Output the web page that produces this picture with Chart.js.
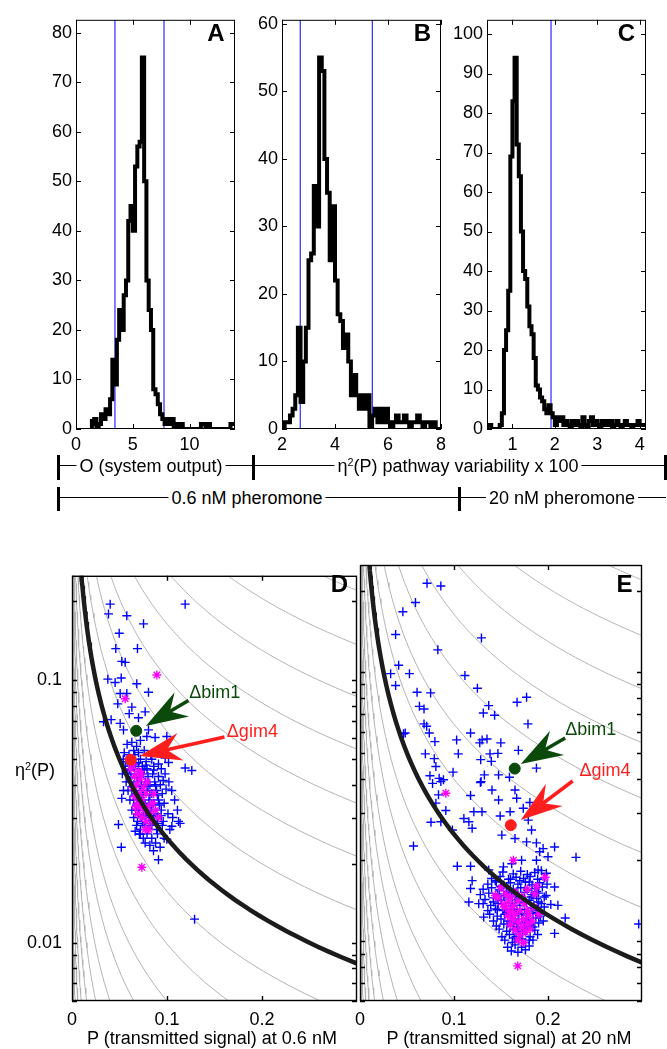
<!DOCTYPE html>
<html>
<head>
<meta charset="utf-8">
<script src="https://cdn.jsdelivr.net/npm/chart.js@4.4.1/dist/chart.umd.min.js"></script>
<style>
  body { margin: 0; background: #fff; }
  #fig { position: relative; width: 667px; height: 1049px; overflow: hidden;
         font-family: "Liberation Sans", Arial, Helvetica, sans-serif; color: #000; }
  canvas { position: absolute; }
  .t { position: absolute; white-space: nowrap; line-height: 1; }
  .t sup { font-size: 0.6em; vertical-align: 0.55em; line-height: 0; }
  .hl { position: absolute; height: 0; border-top: 1.5px solid #000; }
  .bar { position: absolute; width: 3px; background: #000; }
</style>
</head>
<body>
<div id="fig"></div>
<script>
const FONT = '"Liberation Sans", Arial, Helvetica, sans-serif';
Chart.defaults.font.family = FONT;
Chart.defaults.color = '#000';

// ---------- histogram data (top row) ----------
// A: system output O, 0.6 nM
const binsA = { start: 1.4, width: 0.2 };
const countsA = [2,1,2,0,1,3,2,4,3,6,
  14,9,18,24,20,27,30,42,45,40,
  53,57,58,75,50,30,24,20,8,7,
  5,3,2,1,2,1,2,0,1,0,
  1,0,0,0,0,0,0,0,0,1,
  1,0,1,0,0,0,0,0,0,0,
  0,0,1];
const limitsA = [3.43, 7.75];

// B: pathway variability, 0.6 nM
const binsB = { start: 2.0, width: 0.1 };
const countsB = [1,0,1,1,2,3,5,15,4,10,
  15,25,26,36,30,55,53,40,35,25,
  33,22,17,16,12,14,10,5,8,5,
  3,5,3,5,0,2,3,1,3,1,
  3,1,0,1,2,1,1,2,1,0,
  1,1,2,1,0,1,1,0,1,0];
const limitsB = [2.69, 5.41];

// C: pathway variability, 20 nM
const binsC = { start: 0.4, width: 0.05 };
const countsC = [1,1,1,0,0,0,0,1,4,20,
  25,35,69,83,94,72,64,50,40,38,
  31,26,24,18,11,10,8,7,5,4,
  6,4,3,1,3,2,3,1,2,1,
  0,2,1,2,1,0,3,1,0,2,
  3,1,2,1,0,2,1,2,1,2,
  0,1,2,1,0,1,2,1,1,0,
  1,1,2,1,1];
const limitsC = [1.91];

const xTicksA = [0, 5, 10];
const yTicksA = [0, 10, 20, 30, 40, 50, 60, 70, 80];
const xTicksB = [2, 4, 6, 8];
const yTicksB = [0, 10, 20, 30, 40, 50, 60];
const xTicksC = [1, 2, 3, 4];
const yTicksC = [0, 10, 20, 30, 40, 50, 60, 70, 80, 90, 100];

// ---------- scatter data (bottom row) ----------
// isolines P * eta^2 = const, and the bold one
const isoLevels = [2.5e-6, 4e-6, 7e-6, 1.2e-5, 2e-5, 3.6e-5, 5.8e-5, 9.3e-5, 1.5e-4, 2.4e-4,
  3.9e-4, 6.0e-4, 9.9e-4, 1.57e-3, 2.5e-3, 4.0e-3, 6.4e-3, 1.02e-2, 1.64e-2, 2.6e-2, 4.1e-2, 6.6e-2];
const boundLevel = 0.0025;

const cellsD = [
  [0.0402,0.195],[0.0384,0.179],[0.0577,0.176],[0.0753,0.164],[0.0497,0.151],[0.0461,0.132],[0.0689,0.132],
  [0.0524,0.118],[0.0560,0.117],[0.0377,0.101],[0.0454,0.098],[0.0518,0.102],[0.0682,0.097],[0.0805,0.090],
  [0.1191,0.195],[0.0507,0.089],[0.0577,0.089],[0.0482,0.0813],[0.0630,0.079],[0.0602,0.0746],[0.0770,0.0758],
  [0.0700,0.0720],[0.0332,0.0695],[0.0412,0.0708],[0.0507,0.0685],[0.0542,0.0647],[0.0805,0.0647],[0.0788,0.0611],
  [0.0875,0.0605],[0.0998,0.0611],[0.1191,0.0463],[0.1261,0.0453],[0.1016,0.0486],[0.0981,0.0505],
  [0.0489,0.0282],[0.0519,0.0231],[0.0858,0.0224],[0.0910,0.0207],[0.0928,0.0231],[0.1121,0.029],[0.1138,0.0285],
  [0.1051,0.0278],[0.0998,0.0248],[0.129,0.0123],[0.0665,0.0266],[0.0718,0.0259],[0.0524,0.0355],[0.0542,0.038],
  [0.058,0.057],[0.063,0.058],[0.068,0.056],[0.072,0.059],[0.065,0.054],
  [0.055,0.053],[0.060,0.052],[0.066,0.052],[0.070,0.053],[0.076,0.054],[0.083,0.052],[0.089,0.053],
  [0.054,0.050],[0.058,0.049],[0.063,0.050],[0.067,0.048],[0.072,0.050],[0.078,0.049],[0.084,0.050],[0.091,0.048],
  [0.056,0.047],[0.061,0.046],[0.065,0.047],[0.070,0.046],[0.074,0.047],[0.079,0.046],[0.086,0.047],[0.094,0.046],
  [0.053,0.044],[0.058,0.044],[0.062,0.043],[0.066,0.044],[0.071,0.043],[0.075,0.044],[0.080,0.043],[0.085,0.044],[0.091,0.043],[0.098,0.044],
  [0.057,0.041],[0.061,0.041],[0.065,0.040],[0.069,0.041],[0.073,0.040],[0.077,0.041],[0.082,0.040],[0.087,0.041],[0.093,0.040],[0.102,0.041],
  [0.059,0.038],[0.063,0.038],[0.067,0.037],[0.071,0.038],[0.075,0.037],[0.079,0.038],[0.084,0.037],[0.089,0.038],[0.095,0.037],[0.105,0.038],
  [0.061,0.035],[0.065,0.035],[0.069,0.034],[0.073,0.035],[0.077,0.034],[0.081,0.035],[0.086,0.034],[0.091,0.035],[0.097,0.034],[0.108,0.035],
  [0.063,0.032],[0.067,0.032],[0.071,0.031],[0.075,0.032],[0.079,0.031],[0.083,0.032],[0.088,0.031],[0.094,0.032],[0.101,0.031],[0.111,0.032],
  [0.065,0.030],[0.069,0.029],[0.073,0.030],[0.077,0.029],[0.081,0.030],[0.085,0.029],[0.090,0.030],[0.096,0.029],[0.106,0.030],
  [0.068,0.028],[0.072,0.027],[0.076,0.028],[0.080,0.027],[0.084,0.028],[0.089,0.027],[0.095,0.028],[0.103,0.027],
  [0.071,0.026],[0.075,0.025],[0.079,0.026],[0.084,0.025],[0.090,0.026],[0.097,0.025],
  [0.077,0.024],[0.082,0.0235],[0.088,0.024],
  [0.060,0.0455],[0.068,0.0425],[0.076,0.0455],[0.064,0.0395],[0.072,0.0395],[0.080,0.0395],[0.088,0.0395],
  [0.066,0.0365],[0.074,0.0365],[0.082,0.0365],[0.090,0.0365],[0.068,0.0335],[0.076,0.0335],[0.084,0.0335],
  [0.092,0.0335],[0.070,0.031],[0.078,0.0305],[0.086,0.0305],[0.094,0.0305],[0.074,0.0285],[0.082,0.0285],
  [0.090,0.0285],[0.062,0.0485],[0.070,0.0485],[0.078,0.0475],[0.086,0.0455],[0.096,0.0415],[0.099,0.0385]
];
const starsD = [
  [0.0893,0.1047],[0.056,0.085],[0.0735,0.0194],[0.062,0.046],[0.066,0.043],[0.070,0.045],[0.068,0.040],
  [0.072,0.042],[0.075,0.039],[0.071,0.037],[0.066,0.036],[0.074,0.035],[0.078,0.037],[0.080,0.033],
  [0.076,0.032],[0.072,0.033],[0.069,0.031],[0.074,0.030],[0.078,0.029],[0.082,0.031],[0.085,0.034],
  [0.081,0.027],[0.077,0.027],[0.084,0.029],[0.088,0.032],[0.064,0.039],[0.070,0.034],[0.067,0.033],
  [0.079,0.041],[0.073,0.044],[0.086,0.037],[0.091,0.030],[0.064,0.048],[0.060,0.050]
];
const bim1D = [0.0676, 0.0642];
const gim4D = [0.0619, 0.0498];

const cellsE = [
  [0.0713,0.214],[0.0860,0.209],[0.0590,0.1815],[0.0456,0.1675],[0.0379,0.138],[0.1292,0.134],[0.0828,0.121],
  [0.0411,0.106],[0.0326,0.0987],[0.0526,0.0987],[0.0379,0.0892],[0.1116,0.0972],[0.1249,0.0871],[0.0607,0.0842],
  [0.0751,0.0837],[0.0632,0.0746],[0.0681,0.0729],[0.1369,0.0751],[0.1312,0.0705],[0.1432,0.0691],[0.1671,0.0773],
  [0.1772,0.0807],[0.1787,0.0642],[0.0681,0.0642],[0.0709,0.0629],[0.0737,0.0594],[0.0481,0.0594],[0.0797,0.0552],
  [0.1028,0.0560],[0.1176,0.0594],[0.1299,0.0560],[0.1351,0.0564],[0.1274,0.0546],[0.1498,0.0546],[0.0695,0.0497],
  [0.0790,0.0477],[0.1046,0.0497],[0.1383,0.0497],[0.1467,0.0499],[0.1685,0.0512],[0.1284,0.0473],[0.1397,0.0466],
  [0.0807,0.0446],[0.0990,0.0425],[0.0744,0.0412],[0.0842,0.0403],[0.0888,0.0398],[0.1323,0.0415],[0.1474,0.0415],
  [0.1590,0.0407],[0.1877,0.0440],[0.1288,0.0392],[0.0463,0.0590],
  [0.0772,0.0386],[0.0860,0.0392],[0.0835,0.0350],[0.0807,0.0326],[0.0913,0.0306],[0.0755,0.0277],[0.0860,0.0278],
  [0.0983,0.0259],[0.0569,0.0226],[0.1281,0.0389],[0.1404,0.0365],[0.1176,0.0348],[0.1298,0.0303],[0.1211,0.0303],
  [0.1105,0.0286],[0.1158,0.0278],[0.1193,0.0263],[0.1474,0.0335],[0.1491,0.0292],[0.1597,0.0303],[0.1649,0.0365],
  [0.1667,0.0340],[0.1737,0.0312],[0.1807,0.0328],[0.1790,0.0282],[0.1825,0.0259],[0.1509,0.0248],[0.1649,0.0241],
  [0.1772,0.0234],[0.1877,0.0232],[0.1948,0.0221],[0.2070,0.0224],[0.2298,0.0205],[0.1912,0.0215],[0.2000,0.0206],
  [0.2070,0.0159],[0.2105,0.0136],[0.2183,0.0122],[0.2070,0.0107],[0.2965,0.0116],[0.1035,0.0190],[0.1176,0.0190],
  [0.1193,0.0168],[0.1176,0.0157],[0.1158,0.0140],[0.1263,0.0138],[0.1316,0.0123],[0.1369,0.0184],[0.1439,0.0168],
  [0.1526,0.0189],[0.1614,0.0194],[0.1719,0.0200],[0.1877,0.0200],[0.1895,0.0184],[0.1983,0.0179],
  [0.152,0.0181],[0.163,0.0178],[0.171,0.0182],[0.178,0.0177],[0.186,0.0180],[0.193,0.0183],
  [0.140,0.0171],[0.149,0.0174],[0.158,0.0170],[0.166,0.0173],[0.174,0.0171],[0.181,0.0174],[0.189,0.0170],[0.196,0.0172],
  [0.136,0.0163],[0.145,0.0166],[0.153,0.0162],[0.160,0.0165],[0.168,0.0163],[0.176,0.0166],[0.183,0.0162],[0.191,0.0165],[0.199,0.0163],
  [0.131,0.0156],[0.140,0.0158],[0.148,0.0155],[0.156,0.0158],[0.163,0.0156],[0.171,0.0158],[0.178,0.0155],[0.186,0.0157],[0.194,0.0159],
  [0.128,0.0149],[0.137,0.0151],[0.146,0.0150],[0.153,0.0148],[0.161,0.0151],[0.168,0.0149],[0.175,0.0152],[0.183,0.0149],[0.190,0.0151],[0.198,0.0148],
  [0.133,0.0143],[0.142,0.0145],[0.150,0.0142],[0.158,0.0145],[0.165,0.0143],[0.172,0.0145],[0.180,0.0142],[0.188,0.0144],[0.196,0.0146],
  [0.131,0.0138],[0.139,0.0136],[0.147,0.0138],[0.155,0.0135],[0.162,0.0138],[0.170,0.0136],[0.177,0.0139],[0.185,0.0136],[0.193,0.0138],[0.203,0.0137],
  [0.136,0.0130],[0.144,0.0132],[0.152,0.0130],[0.160,0.0132],[0.167,0.0129],[0.175,0.0131],[0.182,0.0133],[0.190,0.0130],
  [0.138,0.0126],[0.146,0.0124],[0.154,0.0126],[0.161,0.0124],[0.169,0.0126],[0.177,0.0125],[0.184,0.0127],[0.192,0.0124],
  [0.142,0.0119],[0.150,0.0121],[0.157,0.0119],[0.165,0.0121],[0.172,0.0118],[0.179,0.0120],[0.187,0.0122],[0.195,0.0119],
  [0.145,0.0114],[0.153,0.0116],[0.160,0.0114],[0.167,0.0116],[0.175,0.0113],[0.182,0.0115],[0.190,0.0117],
  [0.148,0.0111],[0.156,0.0109],[0.163,0.0111],[0.170,0.0109],[0.178,0.0111],[0.186,0.0110],
  [0.151,0.0104],[0.159,0.0106],[0.166,0.0104],[0.173,0.0106],[0.181,0.0104],[0.189,0.0106],
  [0.154,0.0101],[0.162,0.0099],[0.169,0.0101],[0.176,0.0099],[0.184,0.0101],
  [0.157,0.0095],[0.165,0.0097],[0.172,0.0095],[0.180,0.0096],
  [0.161,0.0092],[0.168,0.0091],[0.176,0.0093],
  [0.150,0.0160],[0.158,0.0153],[0.166,0.0147],[0.174,0.0140],[0.182,0.0146],[0.190,0.0140],[0.156,0.0128],
  [0.164,0.0131],[0.172,0.0127],[0.180,0.0121],[0.188,0.0128],[0.160,0.0118],[0.168,0.0113],[0.176,0.0117],
  [0.184,0.0113],[0.164,0.0103],[0.172,0.0102],[0.180,0.0101],[0.146,0.0131],[0.142,0.0140],[0.196,0.0134],
  [0.160,0.0170],[0.170,0.0168],[0.180,0.0166],[0.188,0.0153]
];
const starsE = [
  [0.0913,0.0355],[0.1678,0.0081],[0.1632,0.0200],[0.197,0.0173],[0.144,0.0148],
  [0.150,0.0158],[0.155,0.0150],[0.160,0.0146],[0.165,0.0152],[0.158,0.0140],[0.163,0.0135],[0.168,0.0141],
  [0.172,0.0147],[0.175,0.0138],[0.170,0.0130],[0.165,0.0126],[0.160,0.0129],[0.155,0.0133],[0.178,0.0130],
  [0.180,0.0125],[0.174,0.0121],[0.168,0.0118],[0.162,0.0121],[0.157,0.0124],[0.172,0.0113],[0.178,0.0116],
  [0.183,0.0119],[0.165,0.0110],[0.170,0.0106],[0.176,0.0108],[0.181,0.0111],[0.168,0.0101],[0.174,0.0099],
  [0.185,0.0134],[0.186,0.0150],[0.178,0.0156],[0.188,0.0160],[0.152,0.0137],[0.147,0.0145],[0.160,0.0115],[0.190,0.0126]
];
const bim1E = [0.1646, 0.0438];
const gim4E = [0.1604, 0.0270];

const xTicksP = [0, 0.1, 0.2];
const yLabelsP = [0.01, 0.1];
const yMarksP = [0.006,0.007,0.008,0.009,0.01,0.02,0.03,0.04,0.05,0.06,0.07,0.08,0.09,0.1,0.2];

// ---------- layout ----------
const boxA = { l: 76, t: 15, r: 235, b: 429 };
const boxB = { l: 282, t: 15, r: 441, b: 429 };
const boxC = { l: 487, t: 15, r: 646, b: 429 };
const boxD = { l: 72, t: 565, r: 357, b: 1001 };
const boxE = { l: 357, t: 565, r: 642, b: 1001 };

const fig = document.getElementById('fig');

function makeCanvas(box, padL, padB) {
  const c = document.createElement('canvas');
  const w = box.r - box.l + padL + 12, h = box.b - box.t + 10 + padB;
  c.width = w; c.height = h;
  c.style.left = (box.l - padL) + 'px';
  c.style.top = (box.t - 10) + 'px';
  c.style.width = w + 'px'; c.style.height = h + 'px';
  fig.appendChild(c);
  return c;
}

// box with inward ticks on all four sides, matlab style
const boxTicks = {
  id: 'boxTicks',
  afterDatasetsDraw(chart, args, o) {
    const ctx = chart.ctx, a = chart.chartArea, sx = chart.scales.x, sy = chart.scales.y;
    const len = o.len || 5;
    ctx.save();
    ctx.strokeStyle = '#000';
    ctx.lineWidth = o.lw || 1;
    ctx.strokeRect(a.left + 0.5, a.top + 0.5, a.right - a.left - 1, a.bottom - a.top - 1);
    ctx.beginPath();
    (o.x || []).forEach(v => {
      const p = Math.round(sx.getPixelForValue(v)) + 0.5;
      ctx.moveTo(p, a.bottom); ctx.lineTo(p, a.bottom - len);
      ctx.moveTo(p, a.top); ctx.lineTo(p, a.top + len);
    });
    (o.y || []).forEach(v => {
      const p = Math.round(sy.getPixelForValue(v)) + 0.5;
      ctx.moveTo(a.left, p); ctx.lineTo(a.left + len, p);
      ctx.moveTo(a.right, p); ctx.lineTo(a.right - len, p);
    });
    ctx.stroke();
    ctx.restore();
  }
};

// arrows and mutant labels
const notes = {
  id: 'notes',
  afterDatasetsDraw(chart, args, o) {
    const ctx = chart.ctx, sx = chart.scales.x, sy = chart.scales.y;
    const px = p => [sx.getPixelForValue(p[0]), sy.getPixelForValue(p[1])];
    ctx.save();
    (o.arrows || []).forEach(a => {
      const [x1, y1] = px(a.from), [x2, y2] = px(a.to);
      const dx = x2 - x1, dy = y2 - y1, len = Math.hypot(dx, dy);
      const ux = dx / len, uy = dy / len, nx = -uy, ny = ux;
      const L = 42, W = 14, N = 28;
      const bx = x2 - ux * L, by = y2 - uy * L, kx = x2 - ux * N, ky = y2 - uy * N;
      ctx.strokeStyle = a.color; ctx.lineWidth = 3.5;
      ctx.beginPath(); ctx.moveTo(x1, y1); ctx.lineTo(kx, ky); ctx.stroke();
      ctx.fillStyle = a.color;
      ctx.beginPath();
      ctx.moveTo(x2, y2);
      ctx.lineTo(bx + nx * W, by + ny * W);
      ctx.lineTo(kx, ky);
      ctx.lineTo(bx - nx * W, by - ny * W);
      ctx.closePath(); ctx.fill();
    });
    (o.labels || []).forEach(l => {
      const [x, y] = px(l.at);
      ctx.fillStyle = l.color;
      ctx.font = '18px ' + FONT;
      ctx.textBaseline = 'middle'; ctx.textAlign = 'left';
      ctx.fillText(l.text, x, y);
    });
    ctx.restore();
  }
};

function stepPoints(bins, counts) {
  const pts = [{ x: bins.start, y: 0 }];
  counts.forEach((c, i) => pts.push({ x: bins.start + i * bins.width, y: c }));
  pts.push({ x: bins.start + counts.length * bins.width, y: counts[counts.length - 1] });
  return pts;
}

function axis(min, max, ticks, fit, extra) {
  return Object.assign({
    type: 'linear', min: min, max: max,
    grid: { display: false, drawTicks: false },
    border: { display: false },
    afterBuildTicks: s => { s.ticks = ticks.map(v => ({ value: v })); },
    afterFit: fit,
    ticks: { font: { size: 18 }, color: '#000', padding: 5, autoSkip: false, maxRotation: 0 }
  }, extra || {});
}

function histogram(box, bins, counts, limits, xr, yr, xt, yt) {
  const canvas = makeCanvas(box, 45, 30);
  const datasets = [{
    type: 'line', data: stepPoints(bins, counts), stepped: 'after',
    borderColor: '#000', borderWidth: 4, pointRadius: 0, order: 1
  }];
  limits.forEach(v => datasets.push({
    type: 'line', data: [{ x: v, y: yr[0] }, { x: v, y: yr[1] }],
    borderColor: '#3a3aff', borderWidth: 1.3, pointRadius: 0, order: 2
  }));
  const yAx = axis(yr[0], yr[1], yt, s => { s.width = 45; });
  yAx.ticks.padding = 4;
  new Chart(canvas, {
    type: 'scatter',
    data: { datasets },
    options: {
      responsive: false, animation: false, events: [],
      layout: { padding: { top: 10, right: 12, left: 0, bottom: 0 } },
      scales: { x: axis(xr[0], xr[1], xt, s => { s.height = 30; }), y: yAx },
      plugins: { legend: { display: false }, tooltip: { enabled: false },
        boxTicks: { x: xt, y: yt, len: 5 } }
    },
    plugins: [boxTicks]
  });
}

histogram(boxA, binsA, countsA, limitsA, [0, 14], [0, 82.6], xTicksA, yTicksA);
histogram(boxB, binsB, countsB, limitsB, [2, 8], [0, 60.6], xTicksB, yTicksB);
histogram(boxC, binsC, countsC, limitsC, [0.4, 4.15], [0, 103.6], xTicksC, yTicksC);

// isoline points for one level
function isoCurve(c) {
  const x0 = c / 0.3, x1 = Math.min(0.31, c / 0.0055), pts = [];
  for (let i = 0; i <= 80; i++) {
    const x = x0 * Math.pow(x1 / x0, i / 80);
    pts.push({ x: x, y: c / x });
  }
  return pts;
}
const toPts = arr => arr.map(p => ({ x: p[0], y: p[1] }));

function panel(box, cfg) {
  const padL = cfg.yLabels ? 45 : 10;
  const canvas = makeCanvas(box, padL, 30);
  const datasets = isoLevels.map(c => ({
    type: 'line', data: isoCurve(c), borderColor: '#b3b3b3', borderWidth: 1, pointRadius: 0, order: 9
  }));
  datasets.push({ type: 'line', data: isoCurve(boundLevel), borderColor: '#1c1c1c', borderWidth: 4.5, pointRadius: 0, order: 2 });
  datasets.push({ data: toPts(cfg.cells), pointStyle: 'cross', pointRadius: 4.5, borderColor: '#0000ff', borderWidth: 1.4, order: 4 });
  datasets.push({ data: toPts(cfg.stars), pointStyle: 'star', pointRadius: 4.5, borderColor: '#ff00ff', borderWidth: 1.4, order: 3 });
  datasets.push({ data: toPts([cfg.bim1]), pointStyle: 'circle', pointRadius: 5.5, backgroundColor: '#0b4a0b', borderColor: '#0b4a0b', order: 1 });
  datasets.push({ data: toPts([cfg.gim4]), pointStyle: 'circle', pointRadius: 5.5, backgroundColor: '#ff1e1e', borderColor: '#ff1e1e', order: 1 });

  const xAx = axis(0, 0.3, xTicksP, s => { s.height = 30; });
  xAx.ticks.padding = 8;
  xAx.ticks.callback = v => v === 0 ? '0' : v.toFixed(1);
  const yAx = {
    type: 'logarithmic', min: 0.006, max: 0.25,
    grid: { display: false, drawTicks: false }, border: { display: false },
    afterBuildTicks: s => { s.ticks = yLabelsP.map(v => ({ value: v })); },
    afterFit: s => { s.width = padL; },
    ticks: { display: !!cfg.yLabels, font: { size: 18 }, color: '#000', padding: 10, autoSkip: false,
      callback: v => String(v) }
  };
  new Chart(canvas, {
    type: 'scatter',
    data: { datasets },
    options: {
      responsive: false, animation: false, events: [],
      layout: { padding: { top: 10, right: 12, left: 0, bottom: 0 } },
      scales: { x: xAx, y: yAx },
      plugins: { legend: { display: false }, tooltip: { enabled: false },
        boxTicks: { x: [0.1, 0.2], y: yMarksP, len: 5, lw: 1.4 },
        notes: cfg.notes }
    },
    plugins: [boxTicks, notes]
  });
}

const GREEN = '#0b4a0b', RED = '#ff1e1e';
panel(boxD, {
  yLabels: true, cells: cellsD, stars: starsD, bim1: bim1D, gim4: gim4D,
  notes: {
    arrows: [
      { from: [0.1226, 0.0838], to: [0.0777, 0.0670], color: GREEN },
      { from: [0.1605, 0.0608], to: [0.0711, 0.0515], color: RED }
    ],
    labels: [
      { at: [0.1234, 0.0892], text: '\u0394bim1', color: GREEN },
      { at: [0.1630, 0.0633], text: '\u0394gim4', color: RED }
    ]
  }
});
panel(boxE, {
  yLabels: false, cells: cellsE, stars: starsE, bim1: bim1E, gim4: gim4E,
  notes: {
    arrows: [
      { from: [0.2183, 0.0569], to: [0.1710, 0.0456], color: GREEN },
      { from: [0.2263, 0.0394], to: [0.1710, 0.0282], color: RED }
    ],
    labels: [
      { at: [0.2183, 0.0608], text: '\u0394bim1', color: GREEN },
      { at: [0.2334, 0.0430], text: '\u0394gim4', color: RED }
    ]
  }
});

// ---------- text and brackets ----------
function addText(html, x, y, css, anchor) {
  const d = document.createElement('div');
  d.className = 't';
  d.innerHTML = html;
  Object.assign(d.style, { left: x + 'px', top: y + 'px' }, css || {});
  d.style.transform = anchor || 'translate(-50%, -50%)';
  fig.appendChild(d);
  return d;
}
function hline(x1, x2, y) {
  const d = document.createElement('div');
  d.className = 'hl';
  Object.assign(d.style, { left: x1 + 'px', width: (x2 - x1) + 'px', top: (y - 0.75) + 'px' });
  fig.appendChild(d);
}
function bar(x, y1, y2) {
  const d = document.createElement('div');
  d.className = 'bar';
  Object.assign(d.style, { left: (x - 1.5) + 'px', top: y1 + 'px', height: (y2 - y1) + 'px' });
  fig.appendChild(d);
}

const bold = { fontWeight: 'bold', fontSize: '24px' };
addText('A', 216, 33, bold);
addText('B', 422.5, 33, bold);
addText('C', 626.5, 33, bold);
addText('D', 339.5, 583.5, bold);
addText('E', 624.5, 583.5, bold);

const lbl = { fontSize: '18px', background: '#fff', padding: '0 3px' };
hline(58, 666, 466);
bar(58, 455, 480); bar(253, 455, 480); bar(665, 455, 480);
addText('O (system output)', 151, 466, lbl);
addText('\u03b7<sup>2</sup>(P) pathway variability x 100', 458, 466, lbl);

hline(58, 666, 498);
bar(58, 487, 511); bar(459, 487, 511);
addText('0.6 nM pheromone', 247, 498, lbl);
addText('20 nM pheromone', 562, 498, lbl);

addText('\u03b7<sup>2</sup>(P)', 55, 770, { fontSize: '18px' }, 'translate(-100%, -50%)');
addText('P (transmitted signal) at 0.6 nM', 212, 1038, { fontSize: '18px' });
addText('P (transmitted signal) at 20 nM', 509, 1038, { fontSize: '18px' });
</script>
</body>
</html>
